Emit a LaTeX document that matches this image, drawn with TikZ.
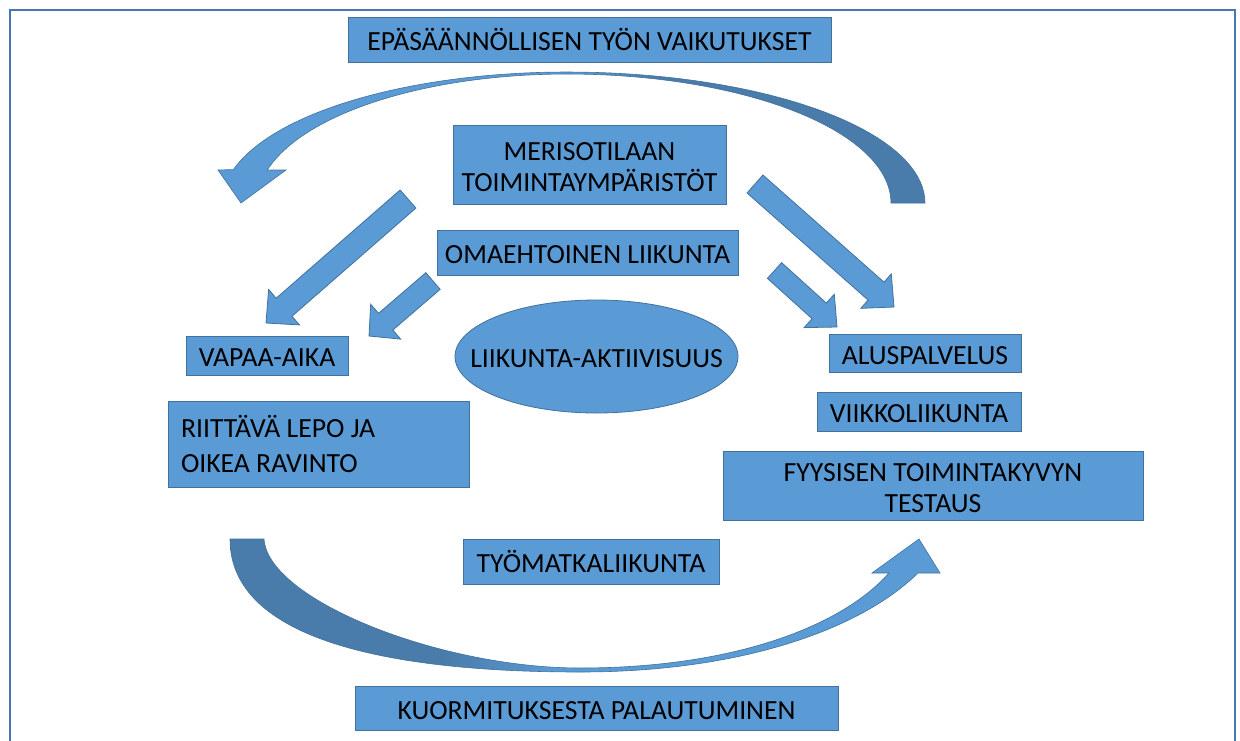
\documentclass[tikz,border=0pt]{standalone}
\usepackage{fontspec}
\setmainfont{Carlito}
\usetikzlibrary{calc,shapes.geometric}
\definecolor{lb}{HTML}{5B9BD5}
\definecolor{db}{HTML}{497CAA}
\definecolor{bd}{HTML}{41719C}
\definecolor{fr}{HTML}{4677B0}
\pgfdeclarehorizontalshading{topshade}{100bp}{color(0bp)=(lb); color(50bp)=(lb); color(56bp)=(db); color(100bp)=(db)}
\pgfdeclarehorizontalshading{botshade}{100bp}{color(0bp)=(db); color(40bp)=(db); color(48bp)=(lb); color(100bp)=(lb)}
\newcommand\blkarrow[5]{%
  \coordinate (#1-b) at ($(#2)!#5pt!(#1)$);
  \filldraw[blk] ($(#1)!#3pt!90:(#2)$) -- ($(#1-b)!#3pt!90:(#2)$) -- ($(#1-b)!#4pt!90:(#2)$) -- (#2)
     -- ($(#1-b)!#4pt!-90:(#2)$) -- ($(#1-b)!#3pt!-90:(#2)$) -- ($(#1)!#3pt!-90:(#2)$) -- cycle;}
\newcommand\topstrut{\rule{0pt}{22.8pt}}
\tikzset{
  box/.style={rectangle, fill=lb, draw=bd, line width=0.8pt, inner sep=0pt,
    font=\fontsize{27.7}{31}\selectfont, text=black},
  oneline/.style={text height=22pt, text depth=0pt},
  twoline/.style={align=center},
  blk/.style={fill=lb, draw=bd, line width=0.8pt, line join=miter},
  frame/.style={draw=fr, line width=2.2pt},
  arcband/.style={draw=bd, line width=0.6pt},
}
\begin{document}
\begin{tikzpicture}[x=1pt,y=-1pt]
\useasboundingbox (0,0) rectangle (1240,740);
\fill[white] (0,0) rectangle (1240,740);
\draw[frame] (10,760) -- (10,10) -- (1235,10) -- (1235,760);

% top curved arrow
\shadedraw[arcband, shading=topshade]
  plot[domain=0:-90, samples=40, variable=\t] ({567+358*cos(\t)},{203+131*sin(\t)})
  -- plot[domain=-90:-165.2, samples=40, variable=\t] ({567+345*cos(\t)},{203+131*sin(\t)})
  -- (218,170) -- (241,203) -- (286,170)
  -- plot[domain=-165.2:-90, samples=40, variable=\t] ({567+310*cos(\t)},{203+129*sin(\t)})
  -- plot[domain=-90:0, samples=40, variable=\t] ({567+324*cos(\t)},{203+129*sin(\t)})
  -- cycle;

% bottom curved arrow
\shadedraw[arcband, shading=botshade]
  (230,539) .. controls (230,640) and (390,672) .. (580,672)
  .. controls (740,672) and (860,630) .. (918,573)
  -- (940,573) -- (919,539) -- (872,573) -- (889,573)
  .. controls (840,628) and (730,668) .. (580,668)
  .. controls (440,668) and (268,600) .. (264,539) -- cycle;

% straight block arrows
\coordinate (aT) at (408,199); \coordinate (aH) at (266,323);
\blkarrow{aT}{aH}{12}{23.5}{24}
\coordinate (bT) at (433,281); \coordinate (bH) at (369,336);
\blkarrow{bT}{bH}{11}{23}{22}
\coordinate (cT) at (755,184); \coordinate (cH) at (894,307);
\blkarrow{cT}{cH}{12}{23}{24}
\coordinate (dT) at (774.5,270.5); \coordinate (dH) at (837,327);
\blkarrow{dT}{dH}{10.6}{22.5}{24}

% boxes
\node[box, oneline, minimum width=483pt, minimum height=45pt] (epa) at (589.5,39.5) {EPÄSÄÄNNÖLLISEN TYÖN VAIKUTUKSET};
\node[box, twoline, minimum width=273pt, minimum height=79pt] (meri) at (589.5,164.5) {\topstrut MERISOTILAAN\\TOIMINTAYMPÄRISTÖT};
\node[box, oneline, minimum width=301pt, minimum height=45pt] (omae) at (587.5,252.5) {OMAEHTOINEN LIIKUNTA};
\node[box, oneline, ellipse, minimum width=283pt, minimum height=113pt] (akt) at (596.5,356.5) {\makebox[0pt]{LIIKUNTA-AKTIIVISUUS}};
\node[box, oneline, minimum width=162pt, minimum height=39pt] (vapaa) at (267,355.5) {VAPAA-AIKA};
\node[box, font=\fontsize{27.7}{35}\selectfont, align=flush left, text width=275pt, inner xsep=13pt, minimum height=86pt] (lepo) at (318.5,444) {RIITTÄVÄ LEPO JA\\OIKEA RAVINTO};
\node[box, oneline, minimum width=192pt, minimum height=38pt] (alus) at (925,353) {ALUSPALVELUS};
\node[box, oneline, minimum width=204pt, minimum height=39pt] (viikko) at (919,411.5) {VIIKKOLIIKUNTA};
\node[box, twoline, minimum width=420pt, minimum height=69pt] (fyys) at (933,485.5) {\topstrut FYYSISEN TOIMINTAKYVYN\\TESTAUS};
\node[box, oneline, minimum width=256pt, minimum height=45pt] (tyomatka) at (591,561.5) {TYÖMATKALIIKUNTA};
\node[box, oneline, minimum width=483pt, minimum height=44pt] (kuorm) at (596.5,708) {KUORMITUKSESTA PALAUTUMINEN};
\end{tikzpicture}
\end{document}
